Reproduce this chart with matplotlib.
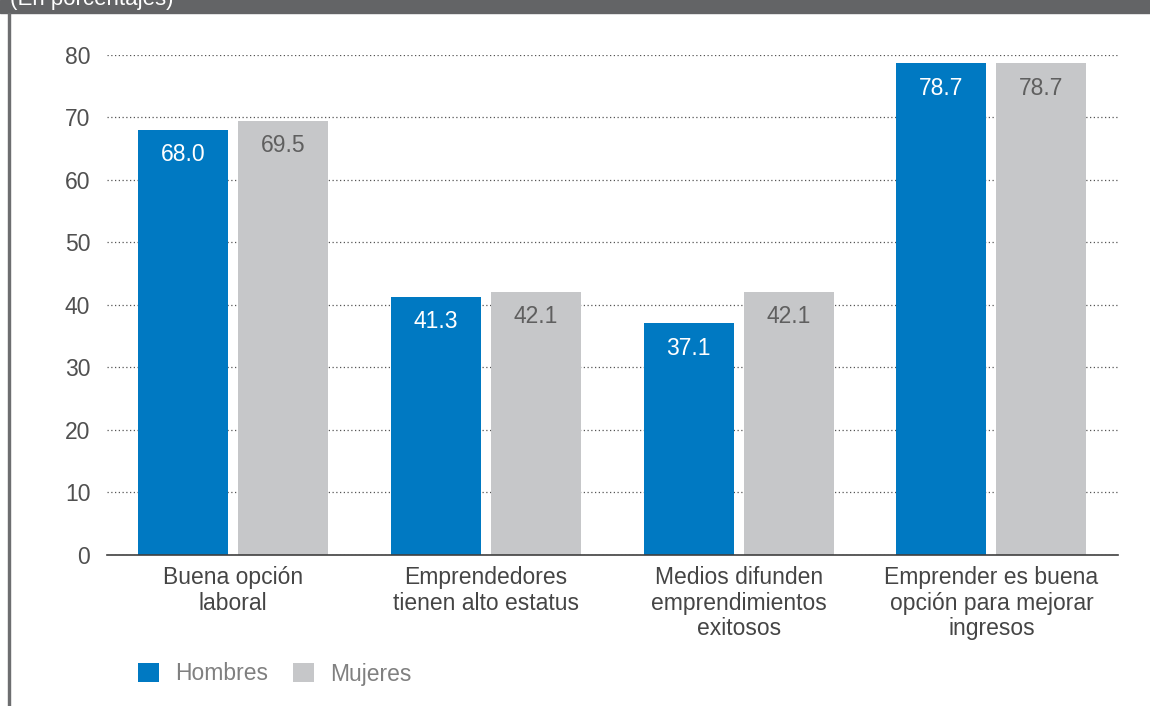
import numpy as np
import matplotlib.pyplot as plt
from matplotlib.patches import Rectangle

plt.rcParams['font.family'] = ['Liberation Sans', 'DejaVu Sans']

# Data
categorias = ['Buena opción\nlaboral', 'Emprendedores\ntienen alto estatus',
              'Medios difunden\nemprendimientos\nexitosos',
              'Emprender es buena\nopción para mejorar\ningresos']
hombres = [68.0, 41.3, 37.1, 78.7]
mujeres = [69.5, 42.1, 42.1, 78.7]

azul = '#0079C2'
gris = '#C6C7C9'

fig = plt.figure(figsize=(11.5, 7.06), dpi=100)
ax = fig.add_axes([0.093, 0.2139, 0.879, 0.7082])

x = np.arange(len(categorias))
ancho = 0.356
desp = 0.198
b1 = ax.bar(x - desp, hombres, ancho, color=azul, label='Hombres', zorder=3)
b2 = ax.bar(x + desp, mujeres, ancho, color=gris, label='Mujeres', zorder=3)

for rect, v in zip(b1, hombres):
    ax.annotate(f'{v:.1f}', (rect.get_x() + rect.get_width() / 2, v),
                xytext=(0, -18), textcoords='offset points', ha='center',
                va='center', color='white', fontsize=16.5, zorder=4)
for rect, v in zip(b2, mujeres):
    ax.annotate(f'{v:.1f}', (rect.get_x() + rect.get_width() / 2, v),
                xytext=(0, -18), textcoords='offset points', ha='center',
                va='center', color='#5f5f5f', fontsize=16.5, zorder=4)

ax.set_xlim(-0.5, len(categorias) - 0.5)
ax.set_ylim(0, 80)
ax.set_yticks(range(0, 81, 10))
ax.set_xticks(x)
ax.set_xticklabels(categorias, fontsize=16.5, color='#454545', linespacing=1.14)
ax.tick_params(axis='y', length=0, pad=12, labelsize=16.5, labelcolor='#505050')
ax.tick_params(axis='x', length=0, pad=8)
ax.yaxis.grid(True, linestyle=(0, (1, 2)), color='#555555', linewidth=0.9, zorder=0)
for s in ['top', 'right', 'left']:
    ax.spines[s].set_visible(False)
ax.spines['bottom'].set_color('#404040')
ax.spines['bottom'].set_linewidth(1.2)
ax.spines['bottom'].set_zorder(5)

leg = ax.legend(loc='center left', bbox_to_anchor=(138 / 1150, 1 - 674 / 706),
                bbox_transform=fig.transFigure, ncol=2, frameon=False,
                fontsize=16.5, handlelength=0.92, handleheight=0.92,
                columnspacing=1.1, handletextpad=0.7, borderpad=0,
                borderaxespad=0)
for t in leg.get_texts():
    t.set_color('#808080')

# Header band and left frame line
fig.patches.append(Rectangle((0, 706 - 13), 1150, 13, transform=None,
                             color='#636466', zorder=0))
fig.text(0.009, 1.0 + 0.016, '(En porcentajes)', color='white', fontsize=16,
         va='top', ha='left')
fig.patches.append(Rectangle((8, 0), 2, 706 - 13, transform=None,
                             color='#6d6e70', zorder=0))

fig.savefig('out.png', dpi=100)
